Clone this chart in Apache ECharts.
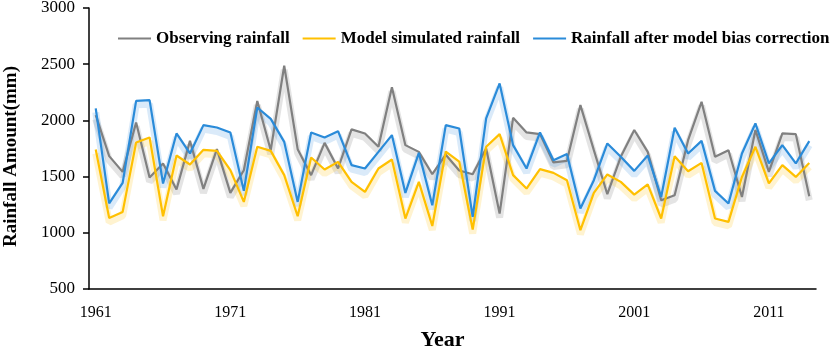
<!DOCTYPE html>
<html>
<head>
<meta charset="utf-8">
<script src="https://cdn.jsdelivr.net/npm/echarts@6/dist/echarts.min.js"></script>
<style>
  html, body { margin: 0; padding: 0; background: #fff; }
  #chart { width: 837px; height: 351px; }
</style>
</head>
<body>
<div id="chart"></div>
<script>
var years = [];
for (var y = 1961; y <= 2014; y++) { years.push(String(y)); }

var observed = [2047,1682,1542,1982,1492,1617,1385,1818,1391,1744,
                1355,1557,2172,1735,2486,1744,1513,1800,1572,1920,
                1884,1765,2294,1780,1720,1521,1695,1554,1521,1750,
                1171,2023,1893,1878,1626,1640,2136,1735,1343,1676,
                1915,1720,1290,1334,1824,2165,1676,1735,1319,1915,
                1542,1884,1878,1326];
var simulated = [1741,1132,1186,1804,1848,1147,1688,1608,1738,1729,
                 1557,1275,1765,1729,1513,1147,1670,1563,1631,1453,
                 1364,1572,1652,1127,1453,1061,1723,1634,1029,1765,
                 1878,1513,1394,1566,1533,1468,1023,1355,1519,1453,
                 1340,1430,1127,1682,1548,1622,1127,1097,1497,1765,
                 1439,1602,1497,1622];
var corrected = [2107,1261,1444,2174,2180,1439,1884,1706,1958,1937,
                 1893,1373,2115,2014,1809,1275,1893,1848,1904,1602,
                 1572,1720,1869,1355,1711,1245,1958,1928,1141,2018,
                 2329,1780,1572,1893,1646,1700,1216,1468,1795,1676,
                 1551,1688,1319,1934,1706,1818,1373,1261,1706,1973,
                 1617,1780,1617,1815];

var chart = echarts.init(document.getElementById('chart'));
var serif = '"Liberation Serif", "Times New Roman", serif';

function lineSeries(name, data, color) {
  return {
    name: name,
    type: 'line',
    data: data,
    symbol: 'none',
    color: color,
    lineStyle: { width: 2.2, color: color },
    z: 3
  };
}

// soft glow under each line: same data on a twin grid shifted a few px down
function glowSeries(name, data, color) {
  return {
    name: name + ' glow',
    type: 'line',
    data: data,
    xAxisIndex: 1,
    yAxisIndex: 1,
    symbol: 'none',
    silent: true,
    lineStyle: { width: 7, color: color },
    z: 1
  };
}

var hiddenX = { type: 'category', data: years, boundaryGap: true, gridIndex: 1, show: false };
var hiddenY = { type: 'value', min: 500, max: 3000, interval: 500, gridIndex: 1, show: false, splitLine: { show: false } };

var option = {
  animation: false,
  backgroundColor: '#fff',
  legend: {
    left: 113,
    top: 25,
    width: 724,
    icon: 'rect',
    itemWidth: 33,
    itemHeight: 2,
    itemGap: 13,
    textStyle: { fontFamily: serif, fontWeight: 'bold', fontSize: 17, color: '#000' },
    data: ['Observing rainfall', 'Model simulated rainfall', 'Rainfall after model bias correction']
  },
  grid: [
    { left: 89, right: 21, top: 8, bottom: 62, containLabel: false, outerBoundsMode: 'none' },
    { left: 89, right: 21, top: 12, bottom: 58, containLabel: false, outerBoundsMode: 'none' }
  ],
  xAxis: [{
    type: 'category',
    data: years,
    boundaryGap: true,
    name: 'Year',
    nameLocation: 'middle',
    nameGap: 40,
    nameTextStyle: { fontFamily: serif, fontWeight: 'bold', fontSize: 22, color: '#000', padding: [0, 20, 0, 0] },
    axisLine: { lineStyle: { color: '#000', width: 1.5 } },
    axisTick: { interval: 9, length: 5, lineStyle: { color: '#000', width: 1.5 } },
    axisLabel: { interval: 9, margin: 16, fontFamily: serif, fontSize: 16, color: '#000' },
    splitLine: { show: false },
    z: 4
  }, hiddenX],
  yAxis: [{
    type: 'value',
    min: 500,
    max: 3000,
    interval: 500,
    name: 'Rainfall Amount(mm)',
    nameLocation: 'middle',
    nameGap: 68,
    nameTextStyle: { fontFamily: serif, fontWeight: 'bold', fontSize: 19, color: '#000', padding: [0, 16, 0, 0] },
    axisLine: { show: true, lineStyle: { color: '#000', width: 1.5 } },
    axisTick: { show: true, length: 6, lineStyle: { color: '#000', width: 1.5 } },
    axisLabel: {
      margin: 14, fontFamily: serif, fontSize: 17, color: '#000',
      formatter: function (v) { return String(v); }
    },
    splitLine: { show: false },
    z: 4
  }, hiddenY],
  series: [
    glowSeries('Observing rainfall', observed, 'rgba(90,90,90,0.16)'),
    glowSeries('Model simulated rainfall', simulated, 'rgba(255,200,40,0.22)'),
    glowSeries('Rainfall after model bias correction', corrected, 'rgba(70,150,225,0.2)'),
    lineSeries('Observing rainfall', observed, '#808080'),
    lineSeries('Model simulated rainfall', simulated, '#ffc000'),
    lineSeries('Rainfall after model bias correction', corrected, '#2a8bd9')
  ]
};
chart.setOption(option);
</script>
</body>
</html>
